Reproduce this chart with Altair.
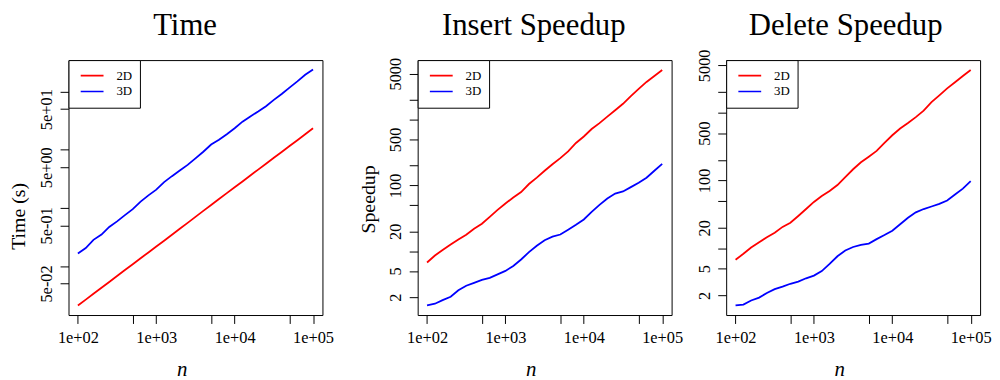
import altair as alt
import pandas as pd

# ---- data ----
n_values = [100, 126, 158, 200, 251, 316, 398, 501, 631, 794,
            1000, 1259, 1585, 1995, 2512, 3162, 3981, 5012, 6310, 7943,
            10000, 12589, 15849, 19953, 25119, 31623, 39811, 50119, 63096, 79433,
            100000]

time_2d = [0.0208, 0.0263, 0.0333, 0.0421, 0.0531, 0.0671, 0.0849, 0.107, 0.136, 0.171,
           0.216, 0.272, 0.344, 0.436, 0.552, 0.700, 0.887, 1.12, 1.42, 1.79,
           2.26, 2.85, 3.61, 4.55, 5.75, 7.26, 9.16, 11.6, 14.6, 18.5,
           23.4]
time_3d = [0.164, 0.203, 0.281, 0.347, 0.469, 0.585, 0.750, 0.949, 1.28, 1.64,
           2.06, 2.77, 3.51, 4.39, 5.48, 7.11, 9.25, 12.3, 14.8, 18.5,
           23.4, 30.4, 37.5, 45.6, 56.2, 72.1, 91.2, 117, 150, 195,
           240]

insert_2d = [6.73, 8.59, 10.4, 12.6, 15.0, 17.8, 21.9, 26.1, 33.3, 42.4,
             53.1, 65.5, 79.3, 105, 131, 167, 210, 260, 329, 442,
             554, 719, 885, 1110, 1390, 1740, 2280, 2940, 3740, 4610,
             5680]
insert_3d = [1.50, 1.59, 1.80, 2.03, 2.55, 2.98, 3.30, 3.66, 3.93, 4.44,
             5.01, 5.96, 7.47, 9.68, 12.1, 14.7, 16.6, 17.9, 21.2, 25.2,
             30.3, 39.6, 50.5, 63.2, 75.2, 80.9, 94.2, 110, 131, 167,
             212]

delete_2d = [6.74, 8.25, 10.2, 12.2, 14.5, 16.9, 20.6, 23.7, 29.8, 37.8,
             48.1, 58.9, 69.7, 85.3, 112, 146, 185, 224, 273, 357,
             464, 583, 702, 859, 1070, 1430, 1800, 2280, 2810, 3480,
             4260]
delete_3d = [1.43, 1.47, 1.69, 1.86, 2.18, 2.48, 2.70, 2.98, 3.21, 3.59,
             3.93, 4.59, 5.85, 7.59, 9.23, 10.4, 11.2, 11.7, 13.6, 15.6,
             18.1, 22.5, 28.1, 33.8, 37.8, 41.2, 45.0, 50.6, 61.9, 75.5,
             97.7]

series_names = ["2D", "3D"]
series_colors = ["#FF0000", "#0000FF"]

panel_titles = ["Time", "Insert Speedup", "Delete Speedup"]
y_titles = ["Time (s)", "Speedup", None]
x_title = "n"

x_ticks = [100, 500, 1000, 5000, 10000, 50000, 100000]
x_tick_labels = ["1e+02", "", "1e+03", "", "1e+04", "", "1e+05"]
time_ticks = [0.05, 0.1, 0.5, 1, 5, 10, 50, 100]
time_tick_labels = ["5e-02", "", "5e-01", "", "5e+00", "", "5e+01", ""]
speed_ticks = [2, 5, 10, 20, 50, 100, 200, 500, 1000, 2000, 5000]
speed_tick_labels = ["2", "5", "", "20", "", "100", "", "500", "", "", "5000"]

x_domain = [75.9, 131826]
time_domain = [0.0143, 349]
insert_domain = [1.07, 8035]
delete_domain = [1.03, 5970]

FONT = "Liberation Serif"
W, H = 256, 257


def label_expr(vals, labels):
    parts = [f"datum.value == {v} ? '{l}'" for v, l in zip(vals, labels) if l]
    return " : ".join(parts) + " : ''"


def long_df(a, b):
    rows = []
    for name, ser in zip(series_names, [a, b]):
        for n, v in zip(n_values, ser):
            rows.append({"n": n, "value": v, "dim": name})
    return pd.DataFrame(rows)


def panel(df, title, title_dx, ytitle, ytitle_y, ydomain, yticks, ylabels):
    x_axis = alt.Axis(
        values=x_ticks, labelExpr=label_expr(x_ticks, x_tick_labels),
        title=x_title, titleFont=FONT, titleFontStyle="italic", titleFontSize=21,
        titleFontWeight="normal", titleColor="black", titleX=114, titleY=61,
        titleBaseline="alphabetic", titleAlign="center",
        labelFont=FONT, labelFontSize=16.5, labelColor="black",
        labelBaseline="alphabetic", labelAlign="center", labelPadding=19.2,
        labelOverlap=False, labelFlush=False,
        tickSize=8.5, tickColor="black", tickWidth=1, domain=False, grid=False,
    )
    y_kwargs = dict(
        values=yticks, labelExpr=label_expr(yticks, ylabels),
        labelFont=FONT, labelFontSize=16.5, labelColor="black",
        labelAngle=270, labelAlign="center", labelBaseline="alphabetic",
        labelPadding=8.5, labelOverlap=False, labelFlush=False,
        tickSize=8.5, tickColor="black", tickWidth=1, domain=False, grid=False,
    )
    if ytitle:
        y_kwargs.update(
            title=ytitle, titleFont=FONT, titleFontSize=20, titleFontWeight="normal",
            titleColor="black", titleAngle=270, titleX=-44, titleY=ytitle_y,
            titleBaseline="alphabetic", titleAlign="center",
        )
    else:
        y_kwargs.update(title=None)
    legend = alt.Legend(
        orient="top-left", offset=0, title=None,
        strokeColor="black", fillColor="white", cornerRadius=0, padding=7.8,
        symbolType="stroke", symbolSize=529, symbolStrokeWidth=1.6,
        symbolOffset=3.5, labelOffset=12, rowPadding=0, clipHeight=15.7,
        labelFont=FONT, labelFontSize=13, labelColor="black",
    )
    lines = alt.Chart(df).mark_line(strokeWidth=1.8, clip=True).encode(
        x=alt.X("n:Q", scale=alt.Scale(type="log", domain=x_domain, nice=False), axis=x_axis),
        y=alt.Y("value:Q", scale=alt.Scale(type="log", domain=ydomain, nice=False), axis=alt.Axis(**y_kwargs)),
        color=alt.Color("dim:N", scale=alt.Scale(domain=series_names, range=series_colors), legend=legend),
        order=alt.Order("n:Q"),
    )
    head = alt.Chart(pd.DataFrame({"t": [title]})).mark_text(
        font=FONT, fontSize=31, color="black", align="center", baseline="alphabetic"
    ).encode(text="t:N", x=alt.value(W / 2 + title_dx), y=alt.value(-25))
    return alt.layer(lines, head).properties(width=W, height=H)


def spacer(w):
    return alt.Chart(pd.DataFrame({"v": [0]})).mark_point(opacity=0).properties(
        width=w, height=H, view=alt.ViewBackground(strokeOpacity=0))


p1 = panel(long_df(time_2d, time_3d), panel_titles[0], -10.5, y_titles[0], 157,
           time_domain, time_ticks, time_tick_labels)
p2 = panel(long_df(insert_2d, insert_3d), panel_titles[1], -11, y_titles[1], 140,
           insert_domain, speed_ticks, speed_tick_labels)
p3 = panel(long_df(delete_2d, delete_3d), panel_titles[2], -7.5, y_titles[2], 140,
           delete_domain, speed_ticks, speed_tick_labels)

chart = alt.hconcat(p1, spacer(96), p2, spacer(55), p3, spacing=0, bounds="flush").resolve_scale(
    color="independent", x="independent", y="independent"
).resolve_legend(color="independent").configure_view(
    stroke="black", strokeWidth=1
).properties(
    padding={"left": 0, "top": 0, "right": 0, "bottom": 0},
    background="white",
)

chart.save("out.html", embed_options={"renderer": "svg", "actions": False})
